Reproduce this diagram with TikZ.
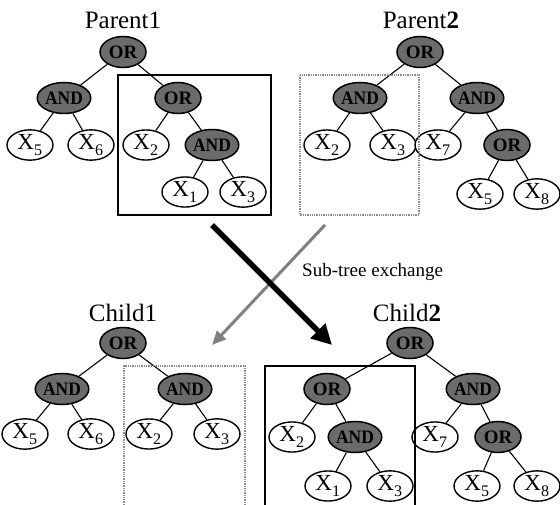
\documentclass[tikz,border=0pt]{standalone}
\usepackage{fontspec}
\setmainfont{Liberation Serif}
\usetikzlibrary{arrows.meta,shapes.geometric}
\tikzset{
  gate/.style={ellipse, draw=black, line width=1.5pt, fill=black!58,
    minimum width=46pt, minimum height=31pt, inner sep=0pt,
    font=\fontsize{19}{19}\selectfont\bfseries},
  leaf/.style={ellipse, draw=black, line width=1.4pt, fill=white,
    minimum width=46pt, minimum height=30pt, inner sep=0pt,
    font=\fontsize{23}{23}\selectfont},
  title/.style={font=\fontsize{25}{25}\selectfont, inner sep=0pt},
  edge/.style={line width=1.1pt},
  cutbox/.style={draw=black, line width=2pt},
  swapbox/.style={draw=black!45, line width=1.3pt, densely dotted},
}
\newcommand{\xv}[1]{X\textsubscript{\raisebox{-2.5pt}{#1}}}
\newcommand{\andtxt}{\scalebox{0.92}[1]{AND}}
\begin{document}
\begin{tikzpicture}[x=1pt,y=-1pt]
\useasboundingbox (0,0) rectangle (560,505);

% ---------- Parent 1 ----------
\node[title] (tp1) at (123,20) {Parent1};
\node[gate] (p1r)  at (123,52)  {OR};
\node[gate] (p1a)  at (64,98)   {\andtxt};
\node[gate] (p1o)  at (178,98)  {OR};
\node[leaf] (p1x5) at (30,145)  {\xv5};
\node[leaf] (p1x6) at (91,145)  {\xv6};
\node[leaf] (p1x2) at (146,145) {\xv2};
\node[gate] (p1b)  at (212,145) {\andtxt};
\node[leaf] (p1x1) at (185,192) {\xv1};
\node[leaf] (p1x3) at (243,192) {\xv3};
\foreach \u/\v in {p1r/p1a,p1r/p1o,p1a/p1x5,p1a/p1x6,p1o/p1x2,p1o/p1b,p1b/p1x1,p1b/p1x3}
  \draw[edge] (\u) -- (\v);
\draw[cutbox] (118,75) rectangle (271,215);

% ---------- Parent 2 ----------
\node[title] (tp2) at (421,20) {Parent\textbf{2}};
\node[gate] (p2r)  at (420,52)  {OR};
\node[gate] (p2a)  at (360,98)  {\andtxt};
\node[gate] (p2b)  at (477,98)  {\andtxt};
\node[leaf] (p2x2) at (327,145) {\xv2};
\node[leaf] (p2x3) at (393,145) {\xv3};
\node[leaf] (p2x7) at (438,145) {\xv7};
\node[gate] (p2o)  at (507,145) {OR};
\node[leaf] (p2x5) at (480,194) {\xv5};
\node[leaf] (p2x8) at (537,194) {\xv8};
\foreach \u/\v in {p2r/p2a,p2r/p2b,p2a/p2x2,p2a/p2x3,p2b/p2x7,p2b/p2o,p2o/p2x5,p2o/p2x8}
  \draw[edge] (\u) -- (\v);
\draw[swapbox] (300,75) rectangle (419,215);

% ---------- exchange arrows ----------
\coordinate (g1) at (325,225);
\coordinate (g2) at (212,345);
\coordinate (b1) at (212,225);
\coordinate (b2) at (332,345);
\draw[draw=black!50, line width=3pt, -{Triangle[length=14pt,width=12pt]}] (g1) -- (g2);
\draw[draw=black, line width=5.5pt, -{Triangle[length=20pt,width=20pt]}] (b1) -- (b2);
\node[anchor=west, inner sep=0pt, font=\fontsize{19}{19}\selectfont] (lbl) at (302,272) {Sub-tree exchange};

% ---------- Child 1 ----------
\node[title] (tc1) at (123,313) {Child1};
\node[gate] (c1r)  at (123,343) {OR};
\node[gate] (c1a)  at (62,389)  {\andtxt};
\node[gate] (c1b)  at (185,389) {\andtxt};
\node[leaf] (c1x5) at (25,434)  {\xv5};
\node[leaf] (c1x6) at (91,434)  {\xv6};
\node[leaf] (c1x2) at (149,434) {\xv2};
\node[leaf] (c1x3) at (217,434) {\xv3};
\foreach \u/\v in {c1r/c1a,c1r/c1b,c1a/c1x5,c1a/c1x6,c1b/c1x2,c1b/c1x3}
  \draw[edge] (\u) -- (\v);
\draw[swapbox] (124,505) -- (124,366) -- (245,366) -- (245,505);

% ---------- Child 2 ----------
\node[title] (tc2) at (407,313) {Child\textbf{2}};
\node[gate] (c2r)  at (410,343) {OR};
\node[gate] (c2o)  at (327,389) {OR};
\node[gate] (c2a)  at (473,389) {\andtxt};
\node[leaf] (c2x2) at (292,437) {\xv2};
\node[gate] (c2b)  at (355,437) {\andtxt};
\node[leaf] (c2x7) at (435,437) {\xv7};
\node[gate] (c2p)  at (498,437) {OR};
\node[leaf] (c2x1) at (328,486) {\xv1};
\node[leaf] (c2x3) at (390,486) {\xv3};
\node[leaf] (c2x5) at (477,486) {\xv5};
\node[leaf] (c2x8) at (537,486) {\xv8};
\foreach \u/\v in {c2r/c2o,c2r/c2a,c2o/c2x2,c2o/c2b,c2a/c2x7,c2a/c2p,c2b/c2x1,c2b/c2x3,c2p/c2x5,c2p/c2x8}
  \draw[edge] (\u) -- (\v);
\draw[cutbox] (265,505) -- (265,366) -- (415,366) -- (415,505);
\end{tikzpicture}
\end{document}
